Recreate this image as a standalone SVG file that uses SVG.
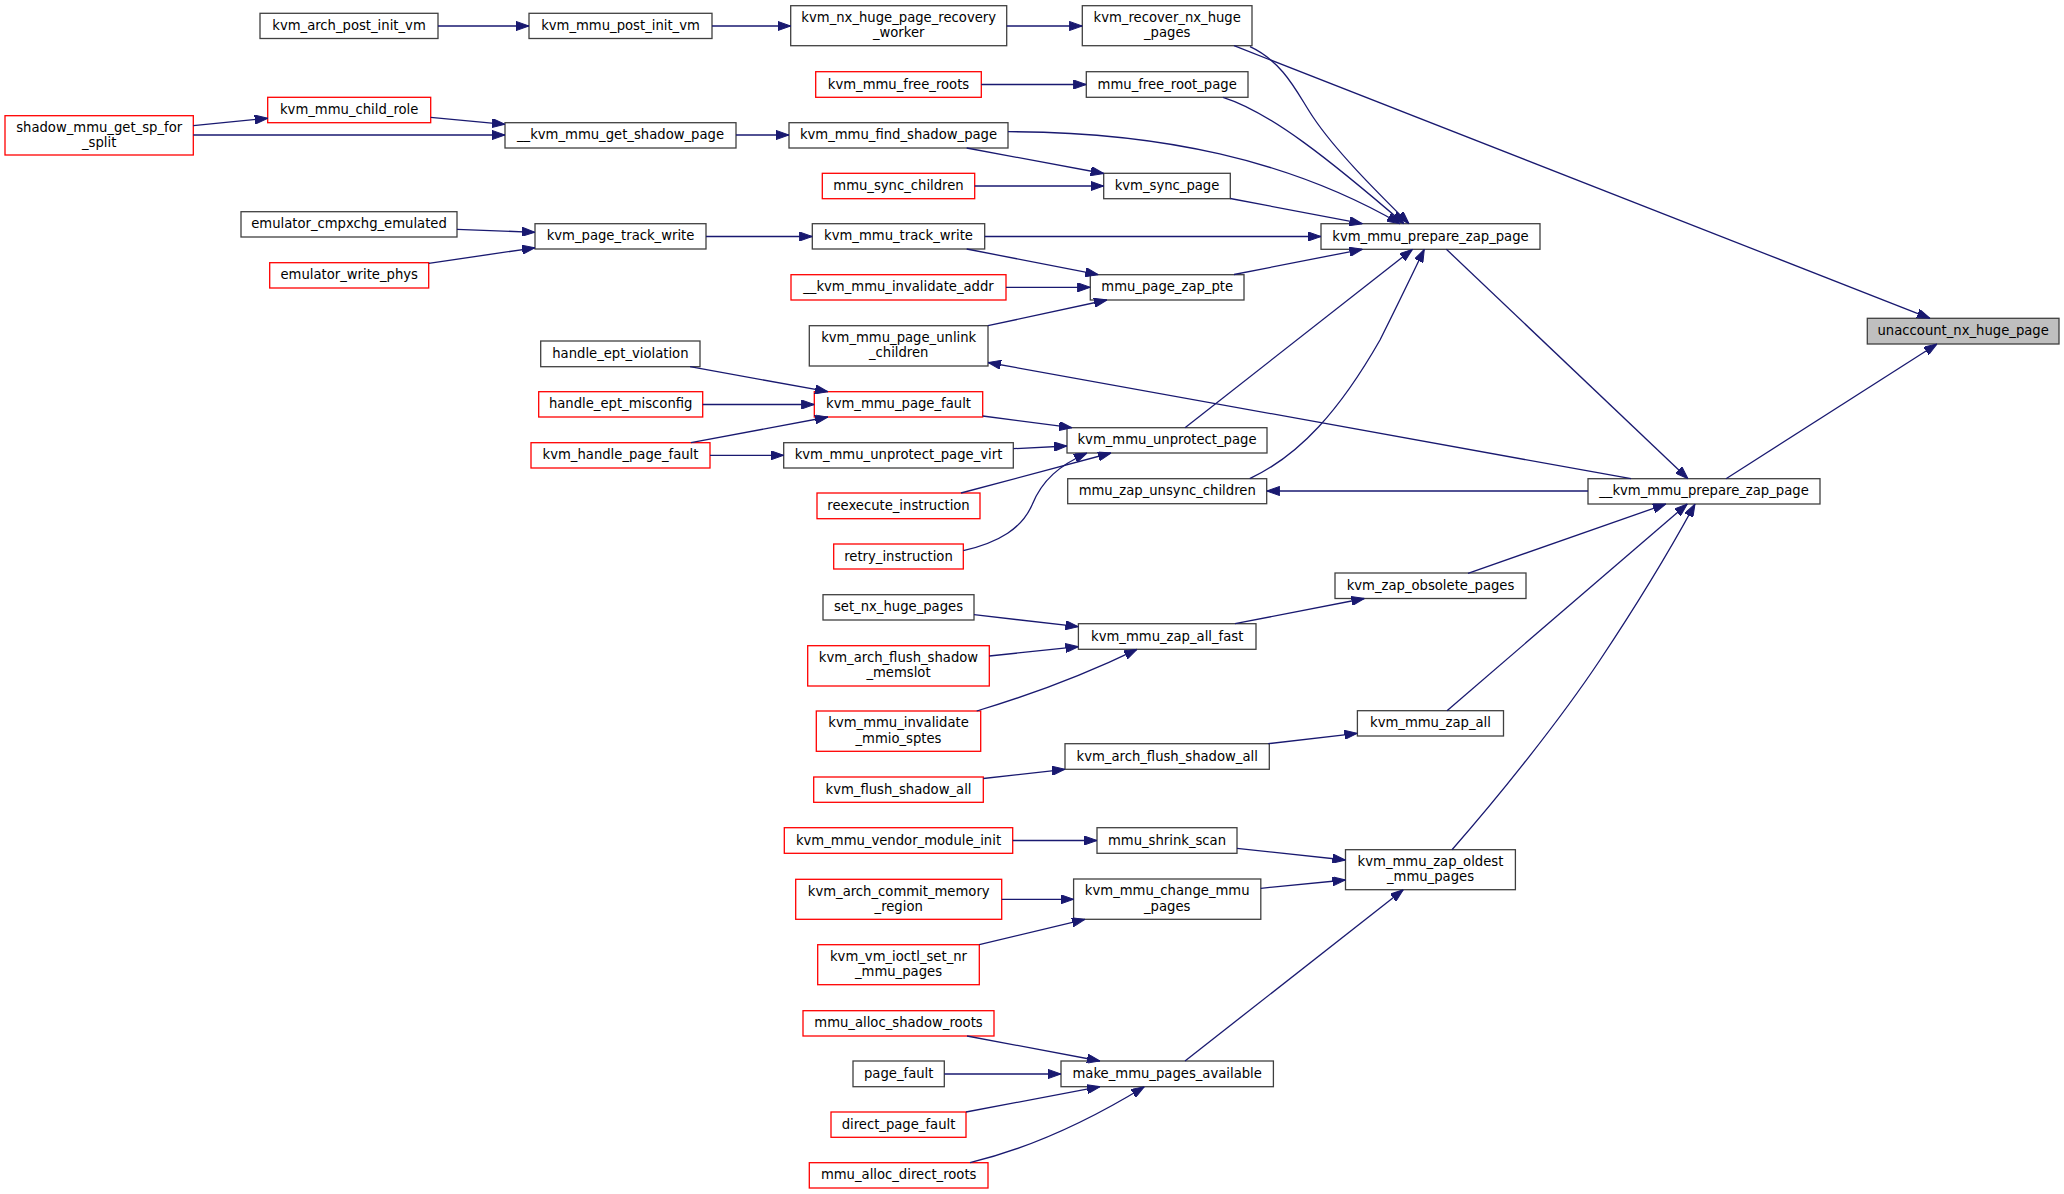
<svg xmlns="http://www.w3.org/2000/svg" width="2064" height="1194" viewBox="0 0 2064 1194">
<defs>
<marker id="ah" viewBox="0 0 13 9.2" refX="13" refY="4.6" markerWidth="13" markerHeight="9.2" markerUnits="userSpaceOnUse" orient="auto">
<path d="M0,0 L13,4.6 L0,9.2 z" fill="#191970" stroke="#191970" stroke-width="1"/>
</marker>
</defs>
<style>
.n rect{fill:#ffffff;stroke:#404040;stroke-width:1.3}
.r rect{fill:#ffffff;stroke:#ff0000;stroke-width:1.3}
.h rect{fill:#bfbfbf;stroke:#404040;stroke-width:1.3}
text{font-family:"DejaVu Sans","Liberation Sans",sans-serif;font-size:13.2px;text-anchor:middle;fill:#000000}
#edges path{fill:none;stroke:#191970;stroke-width:1.3;marker-end:url(#ah)}
</style>
<rect x="0" y="0" width="2064" height="1194" fill="#ffffff"/>
<g id="nodes">
<g id="kvm_arch_post_init_vm" class="n"><rect x="260" y="13.3" width="178" height="25.2"/><text x="349" y="29.9">kvm_arch_post_init_vm</text></g>
<g id="kvm_mmu_post_init_vm" class="n"><rect x="529" y="13.3" width="183" height="25.2"/><text x="620.5" y="29.9">kvm_mmu_post_init_vm</text></g>
<g id="kvm_nx_huge_page_recovery_worker" class="n"><rect x="790.7" y="5.7" width="216" height="40"/><text x="898.7" y="21.9">kvm_nx_huge_page_recovery</text><text x="898.7" y="37.2">_worker</text></g>
<g id="kvm_recover_nx_huge_pages" class="n"><rect x="1082.3" y="5.7" width="169.7" height="40"/><text x="1167.2" y="21.9">kvm_recover_nx_huge</text><text x="1167.2" y="37.2">_pages</text></g>
<g id="mmu_free_root_page" class="n"><rect x="1086.3" y="71.7" width="161.7" height="25.6"/><text x="1167.2" y="88.5">mmu_free_root_page</text></g>
<g id="__kvm_mmu_get_shadow_page" class="n"><rect x="505" y="122.7" width="231" height="25.3"/><text x="620.5" y="139.3">__kvm_mmu_get_shadow_page</text></g>
<g id="kvm_mmu_find_shadow_page" class="n"><rect x="789" y="122.7" width="219" height="25.3"/><text x="898.5" y="139.3">kvm_mmu_find_shadow_page</text></g>
<g id="kvm_sync_page" class="n"><rect x="1103.7" y="173.3" width="126.6" height="25.4"/><text x="1167" y="190">kvm_sync_page</text></g>
<g id="emulator_cmpxchg_emulated" class="n"><rect x="241" y="211.7" width="216" height="25.3"/><text x="349" y="228.3">emulator_cmpxchg_emulated</text></g>
<g id="kvm_page_track_write" class="n"><rect x="535" y="223.7" width="171" height="25.3"/><text x="620.5" y="240.3">kvm_page_track_write</text></g>
<g id="kvm_mmu_track_write" class="n"><rect x="812.3" y="223.7" width="172.4" height="25.3"/><text x="898.5" y="240.3">kvm_mmu_track_write</text></g>
<g id="kvm_mmu_prepare_zap_page" class="n"><rect x="1321" y="223.7" width="219" height="25.6"/><text x="1430.5" y="240.5">kvm_mmu_prepare_zap_page</text></g>
<g id="mmu_page_zap_pte" class="n"><rect x="1090.3" y="274.7" width="153.7" height="25.3"/><text x="1167.2" y="291.3">mmu_page_zap_pte</text></g>
<g id="kvm_mmu_page_unlink_children" class="n"><rect x="809.3" y="325.7" width="178.7" height="40.3"/><text x="898.7" y="342">kvm_mmu_page_unlink</text><text x="898.7" y="357.3">_children</text></g>
<g id="unaccount_nx_huge_page" class="h"><rect x="1867.3" y="318.3" width="191.7" height="25.7"/><text x="1963.2" y="335.2">unaccount_nx_huge_page</text></g>
<g id="handle_ept_violation" class="n"><rect x="540.7" y="341" width="159.3" height="25.7"/><text x="620.4" y="357.8">handle_ept_violation</text></g>
<g id="kvm_mmu_unprotect_page_virt" class="n"><rect x="783.7" y="442.7" width="229.6" height="25.3"/><text x="898.5" y="459.3">kvm_mmu_unprotect_page_virt</text></g>
<g id="kvm_mmu_unprotect_page" class="n"><rect x="1067" y="427.7" width="200" height="25.3"/><text x="1167" y="444.3">kvm_mmu_unprotect_page</text></g>
<g id="mmu_zap_unsync_children" class="n"><rect x="1067.7" y="478.7" width="199" height="25"/><text x="1167.2" y="495.2">mmu_zap_unsync_children</text></g>
<g id="__kvm_mmu_prepare_zap_page" class="n"><rect x="1588" y="478.7" width="232" height="25.3"/><text x="1704" y="495.3">__kvm_mmu_prepare_zap_page</text></g>
<g id="kvm_zap_obsolete_pages" class="n"><rect x="1335" y="573" width="191" height="25.5"/><text x="1430.5" y="589.8">kvm_zap_obsolete_pages</text></g>
<g id="set_nx_huge_pages" class="n"><rect x="823" y="594.7" width="151" height="25.3"/><text x="898.5" y="611.3">set_nx_huge_pages</text></g>
<g id="kvm_mmu_zap_all_fast" class="n"><rect x="1078.4" y="623.7" width="177.6" height="25.6"/><text x="1167.2" y="640.5">kvm_mmu_zap_all_fast</text></g>
<g id="kvm_mmu_zap_all" class="n"><rect x="1357.4" y="710.7" width="146.1" height="25.3"/><text x="1430.5" y="727.3">kvm_mmu_zap_all</text></g>
<g id="kvm_arch_flush_shadow_all" class="n"><rect x="1065" y="743.7" width="204.3" height="25.6"/><text x="1167.2" y="760.5">kvm_arch_flush_shadow_all</text></g>
<g id="mmu_shrink_scan" class="n"><rect x="1097" y="827.7" width="140" height="25.6"/><text x="1167" y="844.5">mmu_shrink_scan</text></g>
<g id="kvm_mmu_zap_oldest_mmu_pages" class="n"><rect x="1345.5" y="849.7" width="169.9" height="40"/><text x="1430.5" y="865.9">kvm_mmu_zap_oldest</text><text x="1430.5" y="881.2">_mmu_pages</text></g>
<g id="kvm_mmu_change_mmu_pages" class="n"><rect x="1073.6" y="879" width="187.2" height="40.3"/><text x="1167.2" y="895.4">kvm_mmu_change_mmu</text><text x="1167.2" y="910.7">_pages</text></g>
<g id="page_fault" class="n"><rect x="853" y="1061" width="91.3" height="25.7"/><text x="898.7" y="1077.9">page_fault</text></g>
<g id="make_mmu_pages_available" class="n"><rect x="1061" y="1061" width="212.4" height="25.7"/><text x="1167.2" y="1077.9">make_mmu_pages_available</text></g>
<g id="kvm_mmu_child_role" class="r"><rect x="267.7" y="97.3" width="163" height="25.4"/><text x="349.2" y="114">kvm_mmu_child_role</text></g>
<g id="shadow_mmu_get_sp_for_split" class="r"><rect x="5" y="115.7" width="188.3" height="39.3"/><text x="99.2" y="131.5">shadow_mmu_get_sp_for</text><text x="99.2" y="146.8">_split</text></g>
<g id="emulator_write_phys" class="r"><rect x="269.7" y="262.7" width="159" height="25.3"/><text x="349.2" y="279.3">emulator_write_phys</text></g>
<g id="kvm_mmu_free_roots" class="r"><rect x="815.7" y="71.7" width="165.6" height="25.6"/><text x="898.5" y="88.5">kvm_mmu_free_roots</text></g>
<g id="mmu_sync_children" class="r"><rect x="822.3" y="173.3" width="152.4" height="25.4"/><text x="898.5" y="190">mmu_sync_children</text></g>
<g id="__kvm_mmu_invalidate_addr" class="r"><rect x="791" y="274.7" width="215" height="25.3"/><text x="898.5" y="291.3">__kvm_mmu_invalidate_addr</text></g>
<g id="handle_ept_misconfig" class="r"><rect x="538.7" y="391.7" width="164" height="25.3"/><text x="620.7" y="408.3">handle_ept_misconfig</text></g>
<g id="kvm_mmu_page_fault" class="r"><rect x="814.3" y="391.7" width="168.4" height="25.3"/><text x="898.5" y="408.3">kvm_mmu_page_fault</text></g>
<g id="kvm_handle_page_fault" class="r"><rect x="531" y="442.7" width="179" height="25.3"/><text x="620.5" y="459.3">kvm_handle_page_fault</text></g>
<g id="reexecute_instruction" class="r"><rect x="817" y="493" width="163" height="25.7"/><text x="898.5" y="509.8">reexecute_instruction</text></g>
<g id="retry_instruction" class="r"><rect x="833.7" y="544" width="129.6" height="25"/><text x="898.5" y="560.5">retry_instruction</text></g>
<g id="kvm_arch_flush_shadow_memslot" class="r"><rect x="807.7" y="645.7" width="181.6" height="40.3"/><text x="898.5" y="662">kvm_arch_flush_shadow</text><text x="898.5" y="677.3">_memslot</text></g>
<g id="kvm_mmu_invalidate_mmio_sptes" class="r"><rect x="816.3" y="711" width="164.4" height="40.3"/><text x="898.5" y="727.4">kvm_mmu_invalidate</text><text x="898.5" y="742.7">_mmio_sptes</text></g>
<g id="kvm_flush_shadow_all" class="r"><rect x="813.7" y="777" width="169.6" height="25.3"/><text x="898.5" y="793.7">kvm_flush_shadow_all</text></g>
<g id="kvm_mmu_vendor_module_init" class="r"><rect x="784.3" y="827.7" width="228.4" height="25.6"/><text x="898.5" y="844.5">kvm_mmu_vendor_module_init</text></g>
<g id="kvm_arch_commit_memory_region" class="r"><rect x="795.7" y="879.3" width="206" height="40"/><text x="898.7" y="895.5">kvm_arch_commit_memory</text><text x="898.7" y="910.8">_region</text></g>
<g id="kvm_vm_ioctl_set_nr_mmu_pages" class="r"><rect x="817.7" y="944.7" width="161.6" height="40"/><text x="898.5" y="960.9">kvm_vm_ioctl_set_nr</text><text x="898.5" y="976.2">_mmu_pages</text></g>
<g id="mmu_alloc_shadow_roots" class="r"><rect x="803" y="1010.7" width="191" height="25.3"/><text x="898.5" y="1027.3">mmu_alloc_shadow_roots</text></g>
<g id="direct_page_fault" class="r"><rect x="831" y="1112" width="135" height="25.3"/><text x="898.5" y="1128.7">direct_page_fault</text></g>
<g id="mmu_alloc_direct_roots" class="r"><rect x="809.3" y="1162.7" width="178.7" height="25.3"/><text x="898.7" y="1179.3">mmu_alloc_direct_roots</text></g>
</g>
<g id="edges">
<path d="M438,26 L529,26"/>
<path d="M712,26 L790.7,26"/>
<path d="M1006.7,26 L1082.3,26"/>
<path d="M1234,45.7 L1930,318.3"/>
<path d="M1250,46.7 C1285,63 1298,95 1313,117 C1335,150 1375,190 1409,223.7"/>
<path d="M981.3,84.5 L1086.3,84.5"/>
<path d="M1223,97.3 C1270,112 1330,160 1404,223.7"/>
<path d="M193.3,125.7 L267.7,118.3"/>
<path d="M430.7,117.3 L505,124.3"/>
<path d="M193.3,135 L505,135"/>
<path d="M736,135 L789,135"/>
<path d="M1008,131.7 C1160,132 1290,160 1400,223.7"/>
<path d="M966.7,148 L1103.7,173.5"/>
<path d="M974.7,186 L1103.7,186"/>
<path d="M1230.3,198.5 L1362.5,223.7"/>
<path d="M457,229.3 L535,232.3"/>
<path d="M428.7,263.3 L535,247.8"/>
<path d="M706,236.5 L812.3,236.5"/>
<path d="M984.7,236.5 L1321,236.5"/>
<path d="M966.7,249 L1098.3,274.7"/>
<path d="M1006,287.3 L1090.3,287.3"/>
<path d="M1234,274.5 L1362.5,249.3"/>
<path d="M988,325.7 L1107,300"/>
<path d="M1446.4,249.3 L1688,478.7"/>
<path d="M1726,478.7 L1937,344"/>
<path d="M1631,478.7 L988,362.5"/>
<path d="M1588,491 L1266.7,491"/>
<path d="M690,366.7 L828,391.7"/>
<path d="M702.7,404.5 L814.3,404.5"/>
<path d="M691,442.7 L828,417"/>
<path d="M710,455.3 L783.7,455.3"/>
<path d="M982.7,416 L1072,427.7"/>
<path d="M1013.3,448.7 L1067,446"/>
<path d="M961,493 L1111,453"/>
<path d="M963.3,550.7 C1000,542 1022,528 1032,505 C1042,480 1060,465 1087,453"/>
<path d="M1185,427.7 L1412.5,249.3"/>
<path d="M1249.7,478.7 C1300,455 1340,410 1380,340 C1400,300 1412,275 1424.3,249.3"/>
<path d="M1468,573.3 L1666,504"/>
<path d="M974,614.7 L1078.4,626.7"/>
<path d="M989.3,656 L1078.4,646.7"/>
<path d="M976.7,711 C1030,695 1090,672 1137,649.3"/>
<path d="M1235,623.7 L1364.4,598.5"/>
<path d="M1447,710.7 L1687.3,504"/>
<path d="M983.3,778.5 L1065,769.3"/>
<path d="M1268.2,743.7 L1357.4,733.3"/>
<path d="M1012.7,840.5 L1097,840.5"/>
<path d="M1237,848.3 L1345.5,860"/>
<path d="M1452,849.7 C1500,795 1560,720 1600,660 C1640,600 1670,550 1695,504"/>
<path d="M1001.7,899.3 L1073.6,899.3"/>
<path d="M979.3,944.7 L1085,919.3"/>
<path d="M1260.8,888.3 L1345.5,880"/>
<path d="M1185,1061 L1403.3,889.7"/>
<path d="M967,1036 L1100,1061"/>
<path d="M944.3,1074 L1061,1074"/>
<path d="M966,1112 L1100,1086.7"/>
<path d="M970,1162.7 C1030,1148 1090,1120 1144.3,1086.7"/>
</g>
</svg>
